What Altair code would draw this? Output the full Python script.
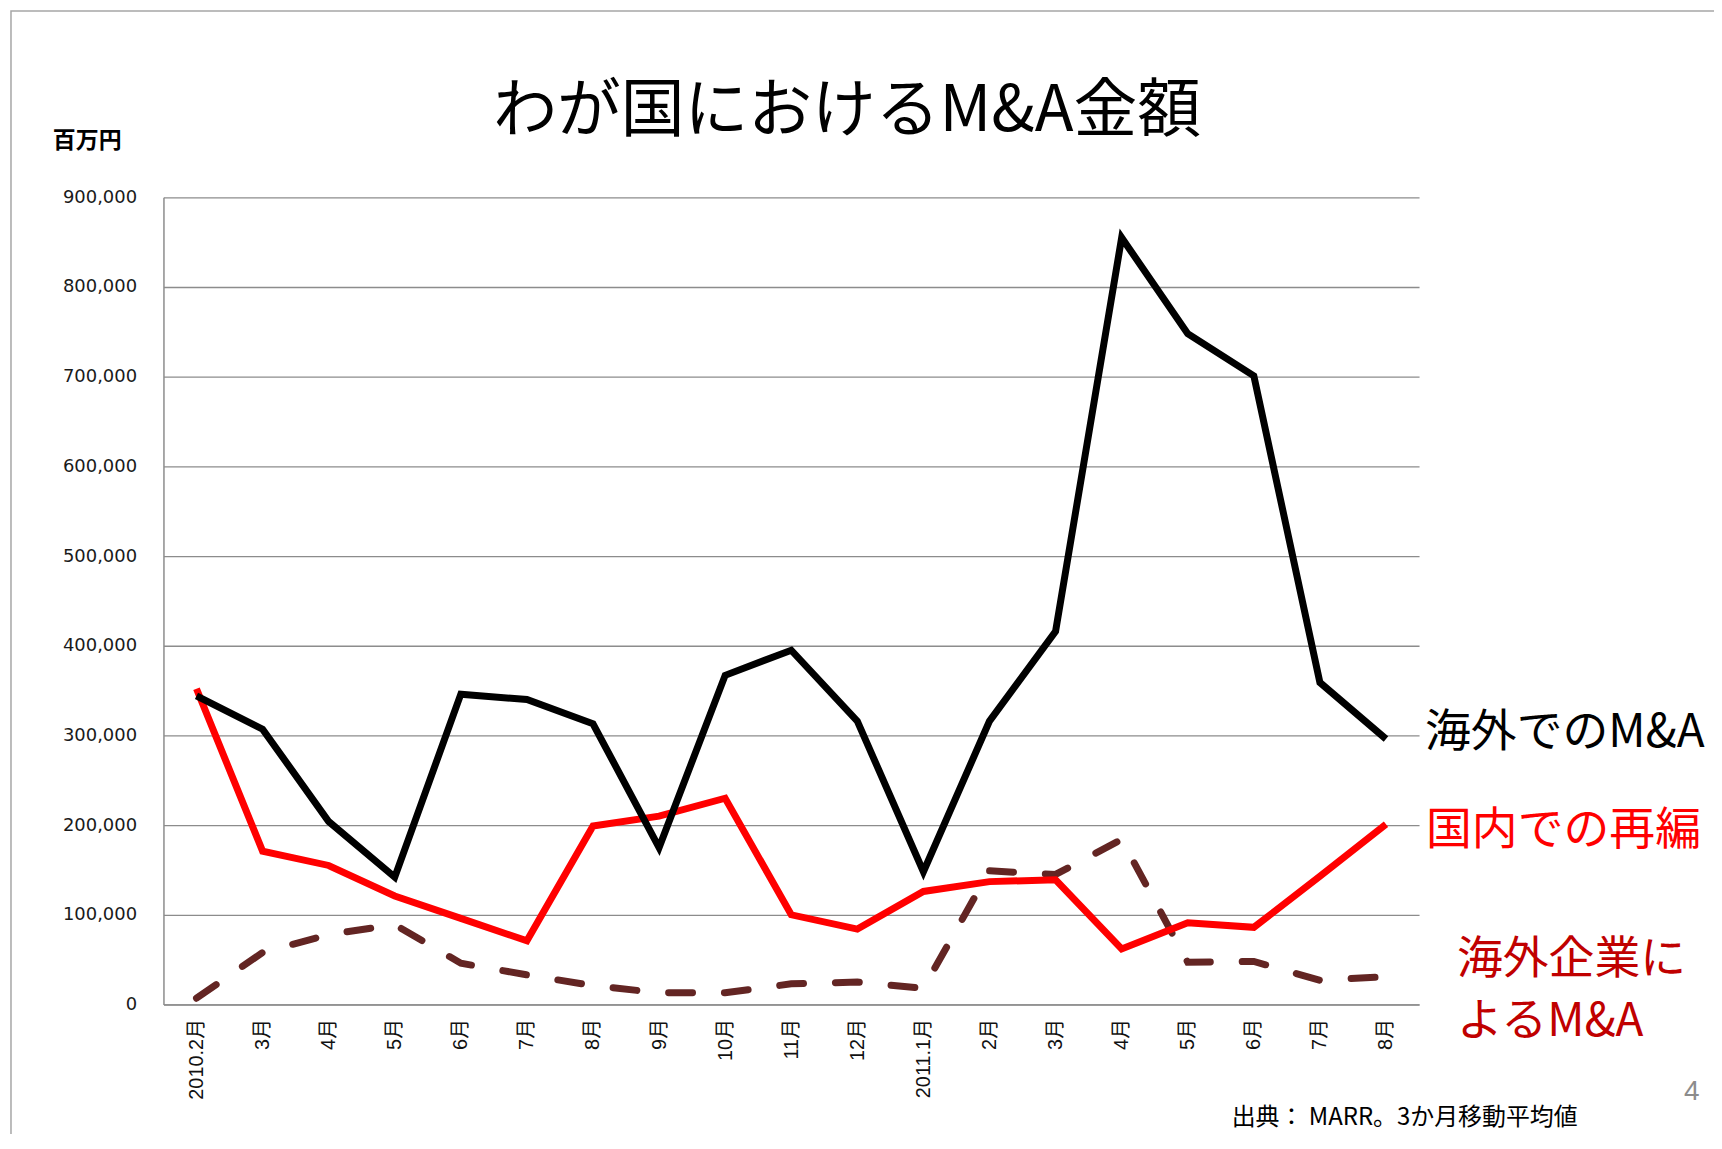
import altair as alt
import pandas as pd

# ---- data ----
months = ["2010.2月", "3月", "4月", "5月", "6月", "7月", "8月", "9月", "10月", "11月",
          "12月", "2011.1月", "2月", "3月", "4月", "5月", "6月", "7月", "8月"]
overseas = [344000, 307000, 204000, 142000, 346000, 340000, 313000, 175000, 367000, 395000,
            316000, 148000, 316000, 416000, 855000, 748000, 701000, 359000, 296000]
domestic = [352000, 171000, 155000, 121000, 96000, 71000, 199000, 210000, 230000, 100000,
            84000, 126000, 137000, 139000, 62000, 91000, 86000, 143000, 201000]
foreign = [7000, 58000, 78000, 89000, 46000, 33000, 21000, 13000, 13000, 23000,
           25000, 18000, 149000, 145000, 184000, 47000, 48000, 27000, 31000]
y_ticks = [0, 100000, 200000, 300000, 400000, 500000, 600000, 700000, 800000, 900000]

title_text = "わが国におけるM&A金額"
unit_text = "百万円"
label_overseas = "海外でのM&A"
label_domestic = "国内での再編"
label_foreign_1 = "海外企業に"
label_foreign_2 = "よるM&A"
source_text = "出典：  MARR。3か月移動平均値"
page_no = "4"

W, H = 1260, 810
CJK = "Noto Sans CJK JP"

def frame(vals):
    return pd.DataFrame({"idx": list(range(len(months))), "value": vals})

label_array = "[" + ",".join("'" + m + "'" for m in months) + "]"

x_enc = alt.X(
    "idx:O",
    scale=alt.Scale(type="point", padding=0.5),
    axis=alt.Axis(
        title=None, labelExpr=label_array + "[datum.value]", labelAngle=270,
        ticks=False, grid=False, labelPadding=14, labelFontSize=20,
        labelFont="Liberation Sans, " + CJK, labelColor="#111111",
        domainColor="#8c8c8c", domainWidth=1.5,
    ),
)
y_enc = alt.Y(
    "value:Q",
    scale=alt.Scale(domain=[0, 900000], nice=False),
    axis=alt.Axis(
        title=None, values=y_ticks, format=",d", ticks=False, grid=True,
        gridColor="#8c8c8c", gridWidth=1.3, labelPadding=27, labelFontSize=18,
        labelFont="DejaVu Sans", labelColor="#1a1a1a",
        domainColor="#8c8c8c", domainWidth=1.5,
    ),
)

line_foreign = alt.Chart(frame(foreign)).mark_line(
    color="#632523", strokeWidth=7, strokeDash=[24, 32], strokeCap="round"
).encode(x=x_enc, y=y_enc)
line_domestic = alt.Chart(frame(domestic)).mark_line(
    color="#ff0000", strokeWidth=7
).encode(x=x_enc, y=y_enc)
line_overseas = alt.Chart(frame(overseas)).mark_line(
    color="#000000", strokeWidth=7
).encode(x=x_enc, y=y_enc)

one = pd.DataFrame({"k": [0]})

def txt(text, x, y, size, color="#000000", font=CJK, align="left", weight="normal"):
    return alt.Chart(one).mark_text(
        text=text, font=font, fontSize=size, color=color, align=align,
        baseline="middle", fontWeight=weight,
    ).encode(x=alt.value(x), y=alt.value(y))

border = alt.Chart(one).mark_rect(
    fillOpacity=0, stroke="#a6a6a6", strokeWidth=1.5
).encode(x=alt.value(-153), x2=alt.value(1620), y=alt.value(-187), y2=alt.value(1000))

chart = alt.layer(
    border,
    line_foreign,
    line_domestic,
    line_overseas,
    txt(title_text, 686, -86, 64, align="center"),
    txt(unit_text, -111, -56, 23, weight="bold"),
    txt(label_overseas, 1266, 538, 46),
    txt(label_domestic, 1267, 636, 46, color="#ff0000"),
    txt(label_foreign_1, 1298, 765, 46, color="#c00000"),
    txt(label_foreign_2, 1298, 828, 46, color="#c00000"),
    txt(source_text, 1072, 924, 24),
    txt(page_no, 1526, 898, 28, color="#8c8c8c", font="Liberation Sans"),
).properties(
    width=W, height=H,
    autosize=alt.AutoSizeParams(type="none"),
    padding={"left": 156, "top": 188, "right": 296, "bottom": 128},
    background="white",
).configure_view(stroke=None)

chart.save("out.html", embed_options={"renderer": "svg", "actions": False})
